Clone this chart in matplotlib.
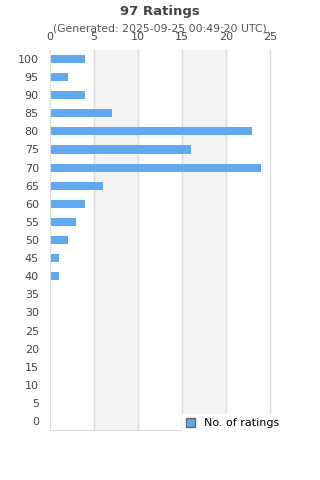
import matplotlib.pyplot as plt
import matplotlib.patches as mpatches

scores = [0, 5, 10, 15, 20, 25, 30, 35, 40, 45, 50, 55, 60, 65, 70, 75, 80, 85, 90, 95, 100]
counts = [0, 0, 0, 0, 0, 0, 0, 0, 1, 1, 2, 3, 4, 6, 24, 16, 23, 7, 4, 2, 4]
title = '97 Ratings'
subtitle = '(Generated: 2025-09-25 00:49:20 UTC)'
bar_color = '#60a9f0'

fig = plt.figure(figsize=(3.2, 4.8), dpi=100)
ax = fig.add_axes([0.156, 0.104, 0.688, 0.792])

# alternating grey bands
for x0 in (5, 15):
    ax.axvspan(x0, x0 + 5, color='#f3f3f3', zorder=0)
for x in (5, 10, 15, 20, 25):
    ax.axvline(x, color='#dddddd', lw=1, zorder=1, clip_on=False)

ypos = list(range(len(scores)))
ax.barh(ypos, counts, height=0.45, color=bar_color, zorder=2)

ax.set_xlim(0, 25)
ax.set_ylim(-0.5, len(scores) - 0.5)
ax.set_yticks(ypos)
ax.set_yticklabels([str(s) for s in scores])
ax.set_xticks([0, 5, 10, 15, 20, 25])
ax.xaxis.tick_top()
ax.tick_params(axis='both', length=0, labelsize=8, labelcolor='#444444')
ax.tick_params(axis='y', pad=8)
ax.tick_params(axis='x', pad=5.5)
for s in ('right', 'top'):
    ax.spines[s].set_visible(False)
for s in ('left', 'bottom'):
    ax.spines[s].set_color('#dddddd')

fig.text(0.5, 0.977, title, ha='center', va='center', fontsize=9.5,
         fontweight='bold', color='#444444')
fig.text(0.5, 0.94, subtitle, ha='center', va='center', fontsize=7.8,
         color='#555555')

handle = mpatches.Patch(facecolor=bar_color, edgecolor='#666666', label='No. of ratings')
leg = fig.legend(handles=[handle], loc='lower left', bbox_to_anchor=(0.55, 0.087),
                 frameon=True, fontsize=8, handlelength=0.8, handleheight=0.8,
                 borderpad=0.4, fancybox=False)
leg.get_frame().set_edgecolor('white')
leg.get_frame().set_facecolor('white')
leg.get_frame().set_alpha(1)

fig.savefig('out.png', dpi=100)
